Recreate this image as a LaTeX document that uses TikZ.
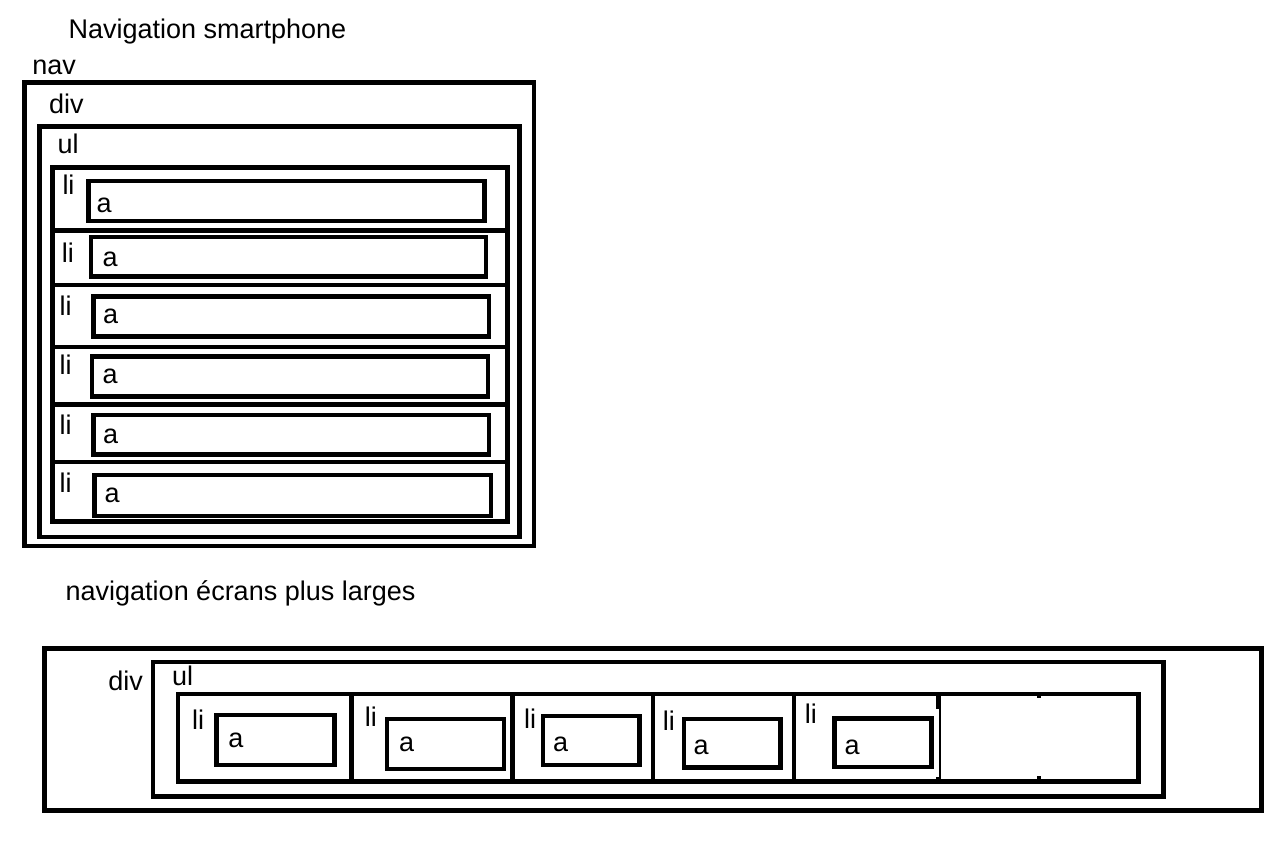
\documentclass[tikz,border=0pt]{standalone}
\usepackage{fontspec}
\setmainfont{Liberation Sans}
\newcommand\bx[5]{\node[box, minimum width={(#4-#2)*1pt}, minimum height={(#5-#3)*1pt}] (#1) at ({(#2+#4)/2},{(#3+#5)/2}) {};}
\newcommand\lbl[4]{\node[lab] (#1) at (#2,#3) {#4};}
\begin{document}
\begin{tikzpicture}[x=1pt,y=-1pt,
  box/.style={draw=black, line width=4.4pt, inner sep=0pt, outer sep=0pt, rectangle},
  sepline/.style={draw=black, line width=4.4pt},
  lab/.style={anchor=base west, inner sep=0pt, outer sep=0pt, font=\fontsize{27}{32}\selectfont}]
\useasboundingbox[fill=white] (0,0) rectangle (1288,846);

% ---------- top: smartphone ----------
\lbl{title}{68.6}{38.3}{Navigation smartphone}
\lbl{tnav}{32.3}{74}{nav}
\lbl{tdiv}{49.1}{113.3}{div}
\lbl{tul}{57.5}{153}{ul}

\bx{navT}{24.5}{82.5}{533.7}{545.7}
\bx{divT}{39.5}{126.5}{519.3}{536.7}
\bx{ulT}{52.5}{167.4}{507.3}{521.3}

\foreach \yy in {230.3,285,346.7,404.3,462.2}
  \draw[sepline] (ulT.west |- 0,\yy) -- (ulT.east |- 0,\yy);

\bx{aT1}{88.5}{181}{484.3}{221}
\bx{aT2}{90.7}{237.2}{485.7}{276.3}
\bx{aT3}{93.6}{296.3}{489}{336.3}
\bx{aT4}{92}{356.3}{488}{396.3}
\bx{aT5}{93.6}{414.7}{489}{454.3}
\bx{aT6}{94.6}{475}{490.7}{515.7}

\lbl{liT1}{62.5}{194}{li}
\lbl{liT2}{61.8}{262}{li}
\lbl{liT3}{59.6}{315}{li}
\lbl{liT4}{59.6}{374}{li}
\lbl{liT5}{59.6}{434}{li}
\lbl{liT6}{59.6}{492}{li}
\lbl{atT1}{96.7}{212.7}{a}
\lbl{atT2}{102.6}{266.7}{a}
\lbl{atT3}{103}{323}{a}
\lbl{atT4}{102.6}{383}{a}
\lbl{atT5}{103}{443}{a}
\lbl{atT6}{104.7}{502}{a}

% ---------- bottom: wider screens ----------
\lbl{title2}{65.7}{600.8}{navigation écrans plus larges}
\lbl{bdiv}{108.4}{690.7}{div}
\lbl{bul}{172.2}{685.7}{ul}

\bx{navB}{44.5}{648.3}{1261.3}{810.4}
\bx{divB}{152.8}{661.7}{1163.5}{796.3}
\bx{ulB}{177.7}{693.7}{1138.3}{781.5}

\foreach \xx in {351.5,512.5,652.7,793.7}
  \draw[sepline] (ulB.north -| \xx,0) -- (ulB.south -| \xx,0);
% irregular last divider
\draw[sepline] (ulB.north -| 938.3,0) -- (938.3,709);
\draw[draw=black, line width=1.3pt] (ulB.north -| 940,0) -- (ulB.south -| 940,0);
\draw[sepline] (938.3,776.5) -- (ulB.south -| 938.3,0);
% small tick marks
\fill[black] (1037.3,695.6) rectangle (1041.3,697.9);
\fill[black] (1037.3,775.8) rectangle (1041.3,779.2);

\bx{aB1}{216.5}{714.7}{334.3}{765}
\bx{aB2}{386.7}{718.7}{504}{769}
\bx{aB3}{542.8}{716}{639.3}{764.7}
\bx{aB4}{683.8}{718.7}{780.3}{767.3}
\bx{aB5}{834.5}{718.5}{931.5}{767.2}

\lbl{liB1}{192.2}{729}{li}
\lbl{liB2}{364.9}{726}{li}
\lbl{liB3}{524.2}{728.3}{li}
\lbl{liB4}{662.9}{730}{li}
\lbl{liB5}{804.9}{723.3}{li}
\lbl{atB1}{228.3}{747.3}{a}
\lbl{atB2}{399}{751}{a}
\lbl{atB3}{553}{751}{a}
\lbl{atB4}{693.7}{754.3}{a}
\lbl{atB5}{844.7}{754.3}{a}
\end{tikzpicture}
\end{document}
